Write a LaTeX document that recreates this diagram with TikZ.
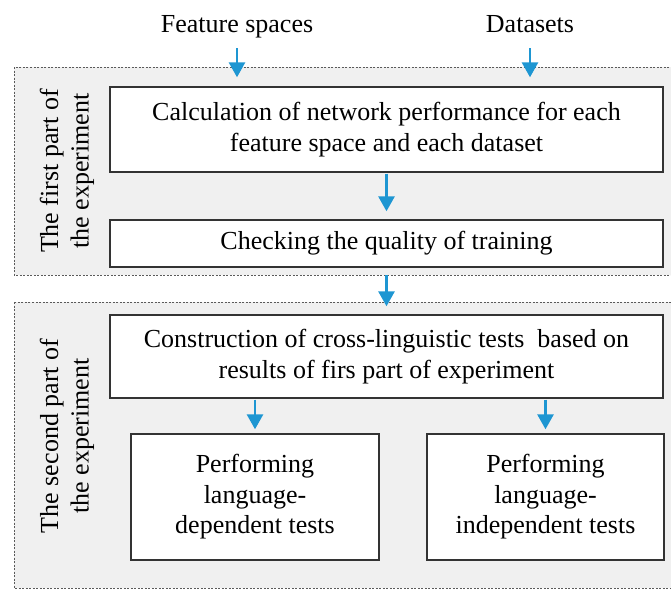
\documentclass[tikz,border=0pt]{standalone}
\usepackage{fontspec}
\setmainfont{Liberation Serif}
\usepackage{tikz}
\usetikzlibrary{arrows.meta,positioning,calc}
\definecolor{flowblue}{HTML}{1E96D2}
\definecolor{grpfill}{HTML}{F0F0F0}
\definecolor{grpline}{HTML}{5A5A5A}

\begin{document}
\begin{tikzpicture}[x=1pt, y=-1pt,
    every node/.style={font=\fontsize{26}{30.5}\selectfont},
    stepbox/.style={rectangle, draw=black!80, fill=white, line width=1.4pt, align=center, inner sep=2pt},
    grp/.style={draw=grpline, fill=grpfill, line width=0.9pt, dash pattern=on 2pt off 1.5pt},
    flow/.style={draw=flowblue, line width=2.8pt, -{Triangle[width=16pt,length=15pt]}},
    sidelabel/.style={rotate=90, align=center}]
    \useasboundingbox (0,0) rectangle (671,590);

    % the two parts of the experiment
    \draw[grp] (14,67) rectangle (676,275);
    \draw[grp] (14,302) rectangle (676,588);
    \coordinate (part1) at (386.5,275);

    \node[anchor=base] (feat) at (237,32) {Feature spaces};
    \node[anchor=base] (data) at (530,32) {Datasets};

    \node[stepbox, minimum width=553pt, minimum height=85pt] (calc) at (386.5,129.5) {Calculation of network performance for each\\feature space and each dataset};
    \node[stepbox, minimum width=553pt, minimum height=47pt] (check) at (386.5,243.5) {Checking the quality of training};
    \node[stepbox, minimum width=553pt, minimum height=83pt] (cross) at (386.5,356.5) {Construction of cross-linguistic tests\ \ based on\\results of firs part of experiment};
    \node[stepbox, minimum width=248pt, minimum height=126pt] (dep) at (255,497) {Performing\\language-\\dependent tests};
    \node[stepbox, minimum width=237pt, minimum height=126pt] (indep) at (545.5,497) {Performing\\language-\\independent tests};

    \node[sidelabel] (lab1) at (67,171) {The first part of\\the experiment};
    \node[sidelabel] (lab2) at (67,436) {The second part of\\the experiment};

    \draw[flow, shorten <=16pt, shorten >=9pt] (feat.base) -- (feat.base |- calc.north);
    \draw[flow, shorten <=16pt, shorten >=9pt] (data.base) -- (data.base |- calc.north);
    \draw[flow, shorten <=1pt, shorten >=8pt] (calc.south) -- (check.north);
    \draw[flow, shorten >=8pt] (part1) -- (cross.north);
    \draw[flow, shorten <=1pt, shorten >=4pt] (cross.south -| dep.north) -- (dep.north);
    \draw[flow, shorten <=1pt, shorten >=4pt] (cross.south -| indep.north) -- (indep.north);
\end{tikzpicture}
\end{document}
